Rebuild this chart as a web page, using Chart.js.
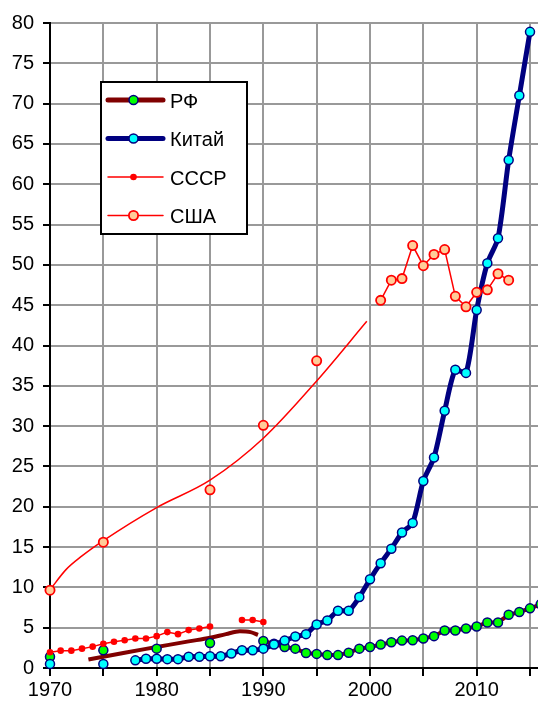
<!DOCTYPE html>
<html><head><meta charset="utf-8">
<script src="https://cdn.jsdelivr.net/npm/chart.js@4/dist/chart.umd.min.js"></script>
<style>html,body{margin:0;padding:0;background:#fff;overflow:hidden}</style>
</head><body>
<canvas id="c" width="538" height="702"></canvas>
<script>
// ---- data ----
const years = [1970,1971,1972,1973,1974,1975,1976,1977,1978,1979,1980,1981,1982,1983,1984,1985,1986,1987,1988,1989,
  1990,1991,1992,1993,1994,1995,1996,1997,1998,1999,2000,2001,2002,2003,2004,2005,2006,2007,2008,2009,
  2010,2011,2012,2013,2014,2015,2016];

const rfValues = [1.4,null,null,null,null,2.2,null,null,null,null,2.4,null,null,null,null,3.1,null,null,null,null,
  3.35,3.0,2.6,2.4,1.85,1.75,1.6,1.6,1.9,2.4,2.6,2.9,3.2,3.4,3.45,3.65,3.95,4.65,4.65,4.9,
  5.15,5.65,5.65,6.6,6.95,7.4,7.9];

const chinaValues = [0.5,null,null,null,null,0.5,null,null,0.95,1.15,1.15,1.1,1.1,1.4,1.4,1.45,1.45,1.8,2.2,2.2,
  2.4,2.9,3.4,3.9,4.2,5.4,5.9,7.1,7.1,8.8,11.0,13.0,14.8,16.8,18.0,23.2,26.1,31.9,37.0,36.6,
  44.4,50.2,53.3,63.0,71.0,78.9,null];

const ussrValues = [1.95,2.15,2.15,2.4,2.65,3.0,3.25,3.45,3.65,3.65,3.95,4.45,4.2,4.7,4.9,5.15,null,null,5.95,5.95,
  5.7,null,null,null,null,null,null,null,null,null,null,null,null,null,null,null,null,null,null,null,
  null,null,null,null,null,null,null];

const usaValues = [9.65,null,null,null,null,15.6,null,null,null,null,null,null,null,null,null,22.1,null,null,null,null,
  30.1,null,null,null,null,38.1,null,null,null,null,null,45.6,48.1,48.3,52.4,49.9,51.3,51.9,46.1,44.8,
  46.6,46.9,48.9,48.1,null,null,null];

// smooth curves
const usaTrendYears = [1970,1971.5,1973,1975,1980,1985,1990,1995,1999.7];
const usaTrendValues = [9.7,12.2,13.9,15.8,19.9,23.3,28.5,35.6,43.0];
const rfCurveYears = [1973.6,1977,1980,1983,1985,1986.5,1987.8,1988.8,1989.5];
const rfCurveValues = [1.05,1.9,2.6,3.3,3.75,4.2,4.55,4.45,4.1];

const seriesNames = ['РФ','Китай','СССР','США'];
const xTickValues = [1970,1975,1980,1985,1990,1995,2000,2005,2010,2015];
const xTickLabels = ['1970','','1980','','1990','','2000','','2010',''];
const yTickValues = [0,5,10,15,20,25,30,35,40,45,50,55,60,65,70,75,80];

// ---- chart ----
Chart.defaults.font.family = "'Liberation Sans', Arial, sans-serif";
Chart.defaults.font.size = 20;
Chart.defaults.color = '#000';

const pairs = (xs, ys) => xs.map((x, i) => ({x: x, y: ys[i]}));

const boxLegend = {
  id: 'boxLegend',
  afterDatasetsDraw(chart) {
    const c = chart.ctx;
    const L = 101, T = 82, R = 247, B = 234;
    c.save();
    c.fillStyle = '#fff';
    c.fillRect(L, T, R - L, B - T);
    c.strokeStyle = '#000';
    c.lineWidth = 2;
    c.strokeRect(L, T, R - L, B - T);
    const rows = [100, 138.5, 177, 215.5];
    seriesNames.forEach((name, i) => {
      const ds = chart.data.datasets[i];
      const y = rows[i];
      c.beginPath();
      c.strokeStyle = ds.borderColor;
      c.lineWidth = ds.legendLineWidth || ds.borderWidth;
      c.lineCap = 'round';
      c.moveTo(108, y); c.lineTo(163, y);
      c.stroke();
      c.beginPath();
      c.arc(133.5, y, ds.pointRadius, 0, Math.PI * 2);
      c.fillStyle = ds.pointBackgroundColor;
      c.fill();
      if (ds.pointBorderWidth) {
        c.lineWidth = ds.pointBorderWidth;
        c.strokeStyle = ds.pointBorderColor;
        c.stroke();
      }
      c.fillStyle = '#000';
      c.font = "20px 'Liberation Sans', Arial, sans-serif";
      c.textBaseline = 'middle';
      c.textAlign = 'left';
      c.fillText(name, 170, y + 2);
    });
    c.restore();
  }
};

new Chart(document.getElementById('c'), {
  type: 'line',
  data: {
    labels: years,
    datasets: [
      { label: seriesNames[0], data: rfValues, borderColor: '#800000', borderWidth: 4, legendLineWidth: 5,
        pointRadius: 4.5, pointBackgroundColor: '#00FF00', pointBorderColor: '#000080', pointBorderWidth: 1.5,
        tension: 0, spanGaps: false, clip: false, order: 4 },
      { label: seriesNames[1], data: chinaValues, borderColor: '#000080', borderWidth: 5,
        pointRadius: 4.5, pointBackgroundColor: '#00FFFF', pointBorderColor: '#000080', pointBorderWidth: 1.5,
        tension: 0.25, spanGaps: false, clip: false, order: 3 },
      { label: seriesNames[2], data: ussrValues, borderColor: '#FF0000', borderWidth: 1.5, legendLineWidth: 1.5,
        pointRadius: 3.3, pointBackgroundColor: '#FF0000', pointBorderColor: '#FF0000', pointBorderWidth: 0,
        tension: 0, spanGaps: false, clip: false, order: 2 },
      { label: seriesNames[3], data: usaValues, borderColor: '#FF0000', borderWidth: 1.5, legendLineWidth: 1.5,
        pointRadius: 4.6, pointBackgroundColor: '#FFCC99', pointBorderColor: '#FF0000', pointBorderWidth: 1.8,
        tension: 0, spanGaps: false, clip: false, order: 0 },
      { label: 'usaTrend', data: pairs(usaTrendYears, usaTrendValues), borderColor: '#FF0000', borderWidth: 1.5,
        pointRadius: 0, cubicInterpolationMode: 'monotone', clip: false, order: 1 },
      { label: 'rfCurve', data: pairs(rfCurveYears, rfCurveValues), borderColor: '#800000', borderWidth: 4,
        pointRadius: 0, cubicInterpolationMode: 'monotone', clip: false, order: 5 }
    ]
  },
  options: {
    responsive: false,
    animation: false,
    devicePixelRatio: 1,
    layout: { autoPadding: false, padding: { top: 23, right: 0, left: 0, bottom: 0 } },
    plugins: { legend: { display: false }, tooltip: { enabled: false } },
    scales: {
      x: {
        type: 'linear', min: 1970, max: 2015.75,
        afterBuildTicks: a => { a.ticks = xTickValues.map(v => ({ value: v })); },
        afterFit: a => { a.height = 34; },
        ticks: { autoSkip: false, maxRotation: 0, padding: 2, callback: (v, i) => xTickLabels[i] },
        grid: { color: '#999999', lineWidth: 2, tickLength: 8, tickColor: '#000', tickWidth: 2 },
        border: { color: '#000', width: 2 }
      },
      y: {
        type: 'linear', min: 0, max: 80,
        afterBuildTicks: a => { a.ticks = yTickValues.map(v => ({ value: v })); },
        afterFit: a => { a.width = 50; },
        ticks: { padding: 9, callback: v => String(v) },
        grid: { color: '#999999', lineWidth: 2, tickLength: 7, tickColor: '#000', tickWidth: 2 },
        border: { color: '#000', width: 2 }
      }
    }
  },
  plugins: [boxLegend]
});
</script>
</body></html>
